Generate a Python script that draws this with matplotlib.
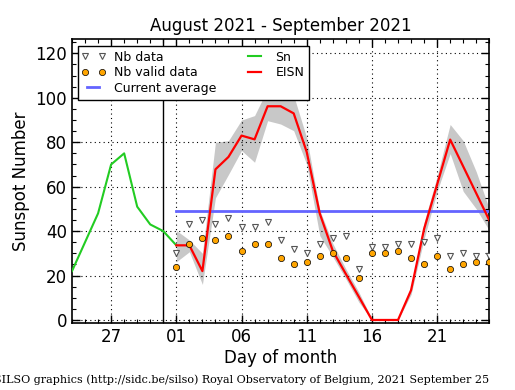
import matplotlib
matplotlib.use("Agg")
import matplotlib.pyplot as plt
from matplotlib.ticker import MultipleLocator, FixedLocator
from matplotlib.legend_handler import HandlerLine2D
import numpy as np

# ---- data ----
# Daily Sn (Aug 24 .. Sep 1)
sn_dates = ["2021-08-24", "2021-08-25", "2021-08-26", "2021-08-27", "2021-08-28",
            "2021-08-29", "2021-08-30", "2021-08-31", "2021-09-01"]
sn_values = [22, 35, 48, 70, 75, 51, 43, 40, 33.6]

# EISN (Sep 1 .. Sep 25)
sep_days = list(range(1, 26))
eisn = [33.6, 33.6, 22, 67.8, 73.4, 83.0, 81.3, 96.2, 96.2, 93.0, 75.6, 47.9, 31.1, 20.7,
        10.4, 0, 0, 0, 13.4, 41, 61, 81.2, 69.1, 57.0, 44.9]
eisn_upper = [40.3, 36.0, 30.0, 80.0, 80.7, 90.0, 92.0, 104, 106, 101, 82, 49.5, 34.4, 23.0,
              12.5, 0.5, 0.5, 0.5, 15.0, 44.0, 64.7, 88.0, 80.7, 66.7, 50.0]
eisn_lower = [26.2, 30.7, 16.0, 55.0, 65.5, 76.3, 71.0, 89.7, 88.2, 85.2, 70.0, 38.0, 28.4, 18.5,
              8.0, 0, 0, 0, 11.5, 36.5, 57.9, 74.9, 57.9, 50.0, 40.3]
nb_data = [30, 43, 45, 43, 46, 42, 42, 44, 36, 32, 30, 34, 37, 38,
           23, 33, 33, 34, 34, 35, 37, 29, 30, 29, 29]
nb_valid = [24, 34, 37, 36, 38, 31, 34, 34, 28, 25, 26, 29, 30, 28,
            19, 30, 30, 31, 28, 25, 29, 23, 25, 26, 26]
current_average = 49

xtick_labels = ["27", "01", "06", "11", "16", "21"]
xtick_dates = ["2021-08-27", "2021-09-01", "2021-09-06", "2021-09-11", "2021-09-16", "2021-09-21"]

# ---- helpers: day index with Sep 1 = 1, Aug 31 = 0 ----
def xpos(date):
    y, m, d = map(int, date.split("-"))
    return d if m == 9 else d - 31

sn_x = [xpos(d) for d in sn_dates]
ep_x = sep_days

fig = plt.figure(figsize=(5.15, 3.9), dpi=100)
ax = fig.add_axes([0.1398, 0.171, 0.9501 - 0.1398, 0.899 - 0.171])

ax.fill_between(ep_x, eisn_lower, eisn_upper, color="#c8c8c8", lw=0, zorder=1)
ax.axvline(0, color="black", lw=1.0, zorder=2)
l_nb, = ax.plot(ep_x, nb_data, ls="none", marker="v", ms=4.3, mfc="white",
                mec="#555555", mew=0.8, zorder=4, label="Nb data")
l_nv, = ax.plot(ep_x, nb_valid, ls="none", marker="o", ms=4.5, mfc="#ffa500",
                mec="black", mew=0.5, zorder=4, label="Nb valid data")
l_avg, = ax.plot([ep_x[0], ep_x[-1]], [current_average] * 2, color="#6464ff", lw=2,
                 zorder=3, label="Current average")
l_sn, = ax.plot(sn_x, sn_values, color="#22cc22", lw=1.5, zorder=3, label="Sn")
l_ei, = ax.plot(ep_x, eisn, color="red", lw=1.6, zorder=3, label="EISN")

ax.set_xlim(-7, 25)
ax.set_ylim(-1.5, 126.3)

ax.xaxis.set_major_locator(FixedLocator([xpos(d) for d in xtick_dates]))
ax.set_xticklabels(xtick_labels)
ax.xaxis.set_minor_locator(MultipleLocator(1))
ax.yaxis.set_major_locator(MultipleLocator(20))
ax.yaxis.set_minor_locator(MultipleLocator(5))
ax.tick_params(which="both", direction="in", top=True, right=True, labelsize=12)
ax.tick_params(which="major", length=6, width=1)
ax.tick_params(which="minor", length=3, width=0.8)
ax.grid(True, which="major", ls=(0, (1, 3)), color="black", lw=0.8)
for s in ax.spines.values():
    s.set_linewidth(1.2)

ax.set_title("August 2021 - September 2021", fontsize=12, pad=6)
ax.set_ylabel("Sunspot Number", fontsize=12)
ax.set_xlabel("Day of month", fontsize=12, labelpad=2)

mh = HandlerLine2D(marker_pad=0.12, numpoints=2)
leg = ax.legend(handles=[l_nb, l_nv, l_avg, l_sn, l_ei], loc="upper left", ncol=2,
                fontsize=9, numpoints=2, frameon=True, fancybox=False,
                framealpha=1, edgecolor="black", borderpad=0.4, labelspacing=0.2,
                handlelength=1.6, handletextpad=0.9, columnspacing=2.2,
                bbox_to_anchor=(0.0, 1.0), handler_map={l_nb: mh, l_nv: mh})
leg.get_frame().set_linewidth(1.0)
leg.set_zorder(10)

fig.text(0.470, 0.012, "SILSO graphics (http://sidc.be/silso) Royal Observatory of Belgium, 2021 September 25",
         ha="center", va="bottom", fontsize=8, family="DejaVu Serif")

fig.savefig("out.png", dpi=100)
